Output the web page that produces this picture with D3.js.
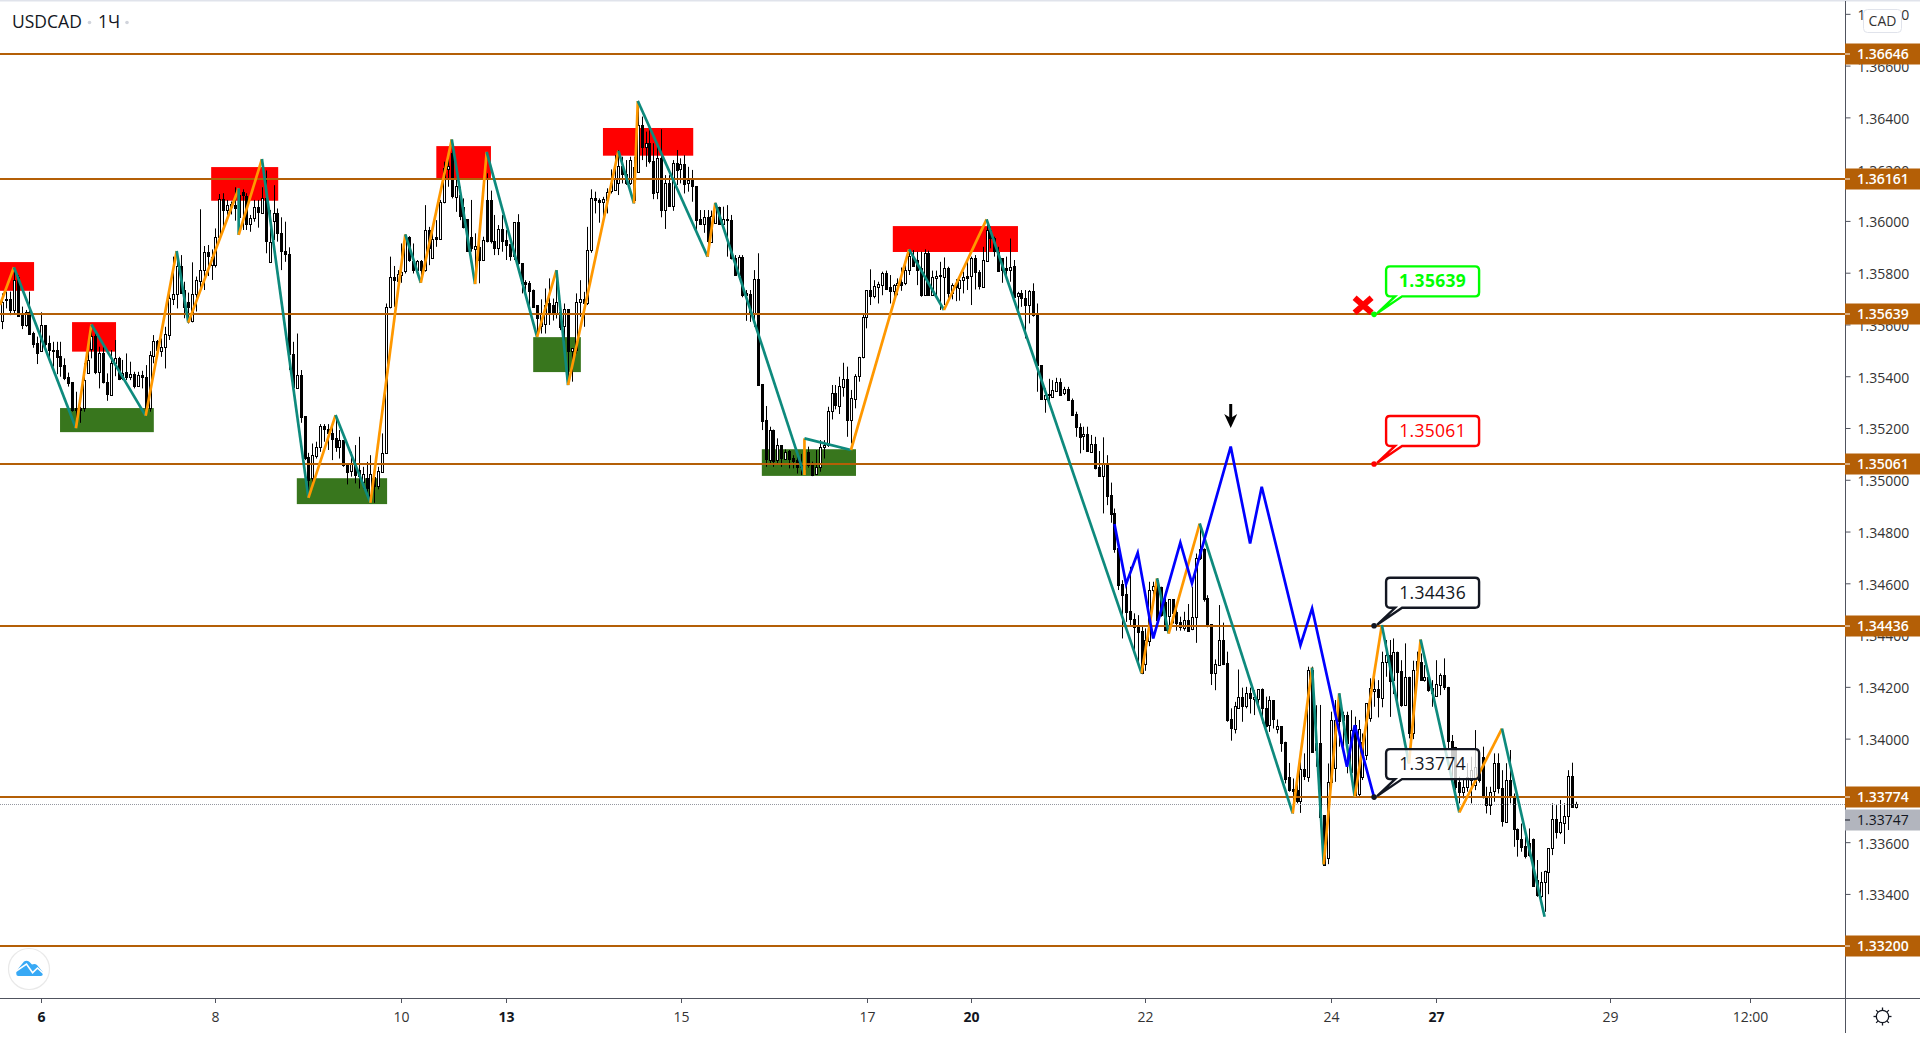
<!DOCTYPE html>
<html>
<head>
<meta charset="utf-8">
<title>USDCAD</title>
<script src="https://cdn.jsdelivr.net/npm/d3@7"></script>
<style>
  html, body { margin: 0; background: #fff; overflow: hidden; }
  svg { display: block; }
  text { font-family: "Open Sans", sans-serif; }
</style>
</head>
<body>
<div class="chart"></div>
<script>
/* candles as [open, high, low, close], in points above basePrice */
const basePrice = 1.33;

const candlesDay6 = [
[2615,2720,2582,2688],[2697,2727,2662,2692],[2698,2727,2636,2656],[2656,2817,2643,2772],[2785,2791,2630,2636],[2643,2669,2582,2598],[2598,2656,2591,2647],[2647,2727,2563,2563],
[2568,2572,2510,2524],[2530,2553,2447,2493],[2495,2647,2495,2596],[2596,2596,2501,2524],[2527,2557,2469,2499],[2500,2533,2437,2497],[2501,2533,2408,2475],[2478,2533,2398,2439],
[2443,2469,2385,2392],[2397,2414,2360,2375],[2376,2376,2263,2269],[2276,2340,2220,2269],[2278,2282,2220,2272],[2278,2450,2263,2385],[2414,2540,2411,2463],[2504,2591,2469,2555],
[2555,2579,2408,2414],[2414,2514,2353,2488],[2488,2514,2372,2375],[2376,2411,2305,2331],[2331,2501,2327,2453],[2450,2540,2400,2469],[2469,2475,2385,2388],[2396,2463,2385,2414],
[2415,2488,2385,2396],[2396,2456,2385,2408],[2408,2417,2353,2362],[2362,2417,2360,2403],[2403,2421,2353,2396],[2396,2443,2250,2276],[2278,2497,2263,2481],[2479,2559,2450,2536],
[2536,2540,2475,2501],[2499,2546,2475,2514],[2510,2591,2430,2562],[2559,2720,2540,2701],[2698,2862,2675,2716],[2716,2881,2662,2826],[2826,2868,2718,2720],[2733,2765,2624,2669],
[2685,2723,2604,2665],[2611,2840,2608,2716],[2716,2785,2650,2772],[2769,3045,2733,2810],[2808,2903,2733,2879],[2880,2907,2787,2864],[2830,2890,2772,2862],[2830,2971,2820,2937],
[2937,3104,2933,3083],[3083,3107,2978,3040],[3040,3081,3023,3060],[3065,3075,3025,3055],[3061,3130,3001,3051],[3016,3122,2946,3100],[3110,3122,2965,3098],[3098,3107,2965,2988],
[2988,3023,2958,3010],[3009,3081,2997,3052],[3052,3081,2974,3032],[3032,3130,3029,3090],[3087,3195,2875,2920]
];

const candlesDay8 = [
[2842,3042,2842,2920],[2997,3138,2926,3029],[3029,3048,2920,2952],[2952,3014,2810,2881],[2883,2997,2842,2871],[2872,2898,2424,2485],[2485,2533,2353,2359],[2353,2565,2353,2404],
[2404,2424,2220,2243],[2246,2246,2076,2082],[2089,2104,1947,1999],[2005,2140,1966,2095],[2091,2147,2082,2127],[2125,2215,2108,2207],[2207,2215,2147,2194],[2196,2215,2115,2179],
[2182,2218,2076,2160],[2160,2250,2108,2127],[2127,2192,2082,2153],[2153,2153,2050,2057],[2057,2063,1982,2031],[2031,2108,2012,2063],[2063,2134,1986,2018],[2037,2166,1966,2012],
[1995,2050,1966,2024],[2005,2069,1934,1966],[1915,2095,1915,2024],[2012,2063,1911,1979],[1975,2050,1963,2033],[2031,2179,2031,2105],[2104,2681,2102,2668],[2668,2862,2662,2782],
[2782,2826,2668,2769],[2769,2810,2761,2795],[2793,2913,2761,2804],[2804,2948,2797,2945],[2936,2941,2842,2846],[2846,2913,2797,2810],[2810,2849,2804,2845],[2845,2849,2765,2810],
[2810,3061,2804,2965],[2965,2977,2829,2894],[2858,2965,2855,2932],[2938,3003,2900,2932],[2932,3081,2929,3074],[3070,3229,3068,3203],[3203,3260,3132,3213],[3261,3287,3087,3096],
[3093,3164,3035,3135],[3100,3132,3003,3019],[3055,3087,2971,2977],[3006,3006,2881,2881],[2936,3081,2881,2894],[2892,2952,2759,2903],[2900,2926,2759,2849],[2849,2939,2845,2926],
[3081,3184,2917,2922],[3081,3117,2913,2923],[2922,3023,2868,2896],[2896,2984,2868,2968],[2968,3023,2881,2923],[2926,2965,2849,2907],[2910,2910,2846,2864],[2864,2994,2849,2994],
[2994,3026,2829,2836],[2836,2836,2720,2759],[2765,2771,2720,2759],[2762,2768,2655,2733],[2735,2735,2668,2671],[2675,2675,2552,2623]
];

const candlesDay14 = [
[2591,2697,2565,2643],[2601,2739,2565,2675],[2681,2778,2598,2643],[2675,2700,2615,2643],[2643,2810,2623,2685],[2650,2690,2578,2591],[2591,2681,2488,2658],[2658,2658,2372,2495],
[2495,2508,2379,2508],[2501,2720,2488,2688],[2687,2771,2630,2697],[2697,2726,2591,2681],[2681,2977,2675,2887],[2885,3122,2877,3087],[3087,3113,3029,3078],[3081,3087,2993,3072],
[3072,3093,2988,3084],[3081,3126,3029,3113],[3113,3199,3106,3145],[3119,3254,3117,3164],[3145,3274,3100,3212],[3212,3248,3145,3181],[3181,3235,3139,3145],[3145,3248,3139,3235],
[3209,3248,3068,3081],[3190,3464,3186,3370],[3370,3403,3235,3284],[3284,3345,3209,3300],[3300,3357,3222,3229],[3231,3300,3084,3109],[3109,3287,3084,3242],[3242,3354,3014,3042],
[3042,3177,2969,3145],[3145,3177,3057,3057],[3059,3235,3039,3225],[3225,3274,3139,3197],[3197,3242,3145,3218],[3218,3254,3106,3142],[3145,3209,3113,3158],[3164,3197,3074,3132],
[3135,3135,2965,3003],[3006,3042,2988,2988],[2988,3042,2954,3014],[3014,3042,2862,2920],[2920,3040,2920,3020],[2993,3070,2990,3055],[3052,3055,2988,2988],[2988,3055,2988,3006],
[3008,3061,2862,3003],[3003,3023,2851,2855],[2858,2868,2791,2791],[2791,2868,2772,2859],[2862,2868,2705,2717],[2720,2733,2614,2714],[2717,2733,2610,2643],[2643,2810,2591,2774],
[2774,2875,2366,2366],[2370,2370,2192,2228],[2230,2285,2050,2079],[2079,2205,2057,2194],[2194,2194,2050,2076],[2076,2160,2057,2134],[2134,2134,2050,2082],[2082,2117,2079,2108],
[2111,2115,2044,2082],[2085,2095,2044,2073],[2076,2102,2024,2050],[2050,2100,2018,2060],[2060,2110,2020,2040],[2108,2128,2047,2057]
];

const candlesDay17 = [
[2057,2070,2014,2018],[2022,2115,2018,2048],[2048,2153,2031,2125],[2125,2153,2082,2134],[2134,2282,2127,2265],[2263,2366,2233,2334],[2334,2366,2272,2286],[2286,2398,2254,2362],
[2359,2452,2321,2388],[2388,2437,2166,2228],[2228,2347,2140,2314],[2314,2408,2276,2401],[2398,2475,2379,2473],[2473,2643,2469,2627],[2627,2733,2585,2733],[2733,2813,2675,2710],
[2710,2771,2701,2748],[2746,2765,2681,2756],[2753,2804,2713,2800],[2800,2808,2733,2739],[2743,2791,2681,2729],[2729,2756,2701,2753],[2753,2778,2713,2762],[2765,2820,2730,2755],
[2761,2829,2752,2810],[2808,2890,2791,2864],[2862,2887,2823,2829],[2849,2881,2752,2810],[2817,2881,2707,2713],[2713,2890,2713,2875],[2875,2885,2710,2711],[2711,2808,2710,2782],
[2779,2808,2710,2788],[2791,2842,2656,2786],[2784,2859,2675,2817],[2817,2823,2701,2720],[2720,2759,2697,2752],[2760,2775,2690,2745],[2739,2791,2692,2771],[2769,2804,2720,2782],
[2787,2855,2733,2779],[2784,2862,2675,2855],[2855,2868,2735,2800],[2802,2810,2735,2746],[2746,2900,2743,2849],[2846,3006,2842,2965],[2965,2978,2894,2933],[2933,2939,2862,2881],
[2881,2900,2804,2808],[2855,2855,2761,2810],[2817,2862,2772,2810],[2810,2932,2765,2823],[2826,2849,2704,2705],[2707,2726,2643,2720],[2720,2733,2668,2701],[2701,2733,2546,2675],
[2675,2733,2604,2729],[2729,2759,2630,2636],[2640,2681,2340,2443],[2443,2443,2310,2310],[2310,2353,2259,2327],[2325,2390,2283,2330],[2318,2385,2318,2346],[2346,2394,2340,2379],
[2379,2392,2327,2330],[2334,2359,2327,2349],[2349,2359,2305,2308],[2308,2314,2250,2251],[2254,2263,2166,2205],[2205,2218,2102,2166]
];

const candlesDay21 = [
[2166,2205,2115,2175],[2175,2205,2108,2108],[2108,2173,2108,2138],[2138,2166,2040,2044],[2050,2111,2014,2014],[2014,2164,1870,2061],[2061,2095,1902,1937],[1941,1989,1834,1867],
[1870,1889,1718,1732],[1735,1735,1574,1593],[1597,1612,1387,1555],[1558,1600,1451,1489],[1493,1664,1432,1462],[1464,1484,1329,1432],[1439,1477,1290,1413],[1415,1432,1249,1252],
[1288,1426,1262,1381],[1378,1606,1357,1576],[1574,1606,1535,1591],[1612,1620,1450,1458],[1584,1587,1471,1477],[1529,1548,1416,1420],[1471,1538,1413,1538],[1538,1538,1445,1484],
[1490,1516,1417,1448],[1449,1471,1417,1430],[1430,1490,1417,1460],[1460,1520,1417,1419],[1422,1587,1419,1468],[1468,1715,1370,1696],[1731,1830,1690,1696],[1731,1735,1529,1539],
[1542,1554,1430,1436],[1442,1442,1207,1254],[1254,1306,1187,1287],[1284,1516,1284,1381],[1381,1448,1284,1290],[1294,1336,1065,1072],[1074,1117,992,1039],[1039,1142,1020,1126],
[1117,1267,1117,1159],[1159,1197,1065,1126],[1126,1200,1117,1175],[1175,1197,1097,1154],[1154,1187,1091,1160],[1151,1190,1117,1190],[1190,1194,1059,1117],[1120,1162,1043,1052],
[1052,1164,1026,1149],[1149,1149,1039,1074],[1038,1074,1020,1048],[1048,1048,949,984],[988,988,827,846],[853,906,795,804],[807,846,711,798],[800,860,750,756],
[756,943,713,881],[881,943,840,853],[853,1278,833,1265],[1265,1278,950,949],[982,1129,891,956],[985,1130,698,701],[704,704,509,511],[541,904,515,833],
[833,1104,833,1072],[885,1149,833,1072]
];

const candlesDay27 = [
[1149,1175,969,1069],[1091,1104,969,1072],[1091,1104,866,982],[872,1110,859,1033],[1052,1085,773,773],[786,1072,773,1039],[853,1020,840,988],[934,1136,917,1136],
[1078,1233,1065,1194],[1184,1233,1123,1191],[1190,1226,1082,1159],[1159,1336,1121,1297],[1297,1381,1239,1323],[1323,1381,1084,1224],[1226,1387,1172,1336],[1336,1336,1136,1258],
[1262,1303,1123,1130],[1130,1368,1126,1237],[1237,1239,1001,1020],[1023,1301,998,1267],[1265,1336,1258,1301],[1297,1329,1224,1226],[1226,1284,1220,1239],[1239,1246,1181,1188],
[1194,1226,1123,1175],[1164,1303,1162,1211],[1207,1252,1168,1246],[1246,1310,1188,1198],[1198,1200,956,988],[992,1014,853,930],[968,968,801,814],[833,853,750,795],
[795,840,769,814],[814,905,795,853],[840,930,750,878],[821,1033,801,891],[872,930,830,840],[930,969,769,775],[778,814,711,743],[743,814,705,795],
[795,943,756,904],[904,943,788,808],[808,878,660,679],[679,905,676,842],[842,956,750,775],[778,788,582,649],[652,653,544,614],[614,672,563,582],
[585,621,537,546],[595,653,544,550],[611,614,428,430],[453,531,389,395],[392,485,383,447],[447,490,331,489],[485,576,399,576],[576,750,550,688],
[688,743,614,636],[636,763,631,676],[676,750,593,702],[702,878,647,855],[855,907,734,737],[737,756,730,747]
];

const candles = [...candlesDay6, ...candlesDay8, ...candlesDay14, ...candlesDay17, ...candlesDay21, ...candlesDay27];

/* zigzag pivots as [bar index, points above basePrice] */
const zigzagPivots = [
[-0.6,2675],[3,2821],[19,2199],[23,2600],[37,2247],[45,2884],[48,2607],[61,3126],[61,2946],[67,3239],[79,1930],[86,2250],
[95,1911],[104,2948],[108,2761],[116,3315],[122,2756],[125,3267],[138,2552],[143,2810],[146,2366],[159,3271],[163,3068],[164,3463],
[182,2862],[184,3070],[207,2018],[207,2160],[219,2115],[234,2890],[243,2656],[254,3006],[294,1252],[298,1619],[301,1406],[309,1831],
[333,711],[338,1274],[341,514],[345,1175],[349,775],[356,1439],[363,904],[366,1383],[376,715],[387,1039],[398,312]
];

const forecastPivots = [
[287,1829],[290,1597],[293,1718],[297,1387],[304,1757],[307,1600],[317,2128],[322,1754],[325,1973],[335,1361],[338,1503],[347,891],[349,1052],[354,773]
];

/* supply and demand zones: [first bar, last bar, top, bottom] */
const supplyZones = [
[-2,8.2,2841,2730],[18,29.35,2609,2495],[53.9,71.2,3208,3078],[112,126.1,3289,3163],[155,178.3,3359,3252],[229.8,262.1,2980,2880]
];
const demandZones = [
[14.9,39.1,2277,2184],[76,99.3,2006,1906],[137,149.3,2551,2416],[196,220.3,2118,2015]
];

/* horizontal levels, price ticks, time ticks */
const levels = [1.36646, 1.36161, 1.35639, 1.35061, 1.34436, 1.33774, 1.332];
const lastPrice = 1.33747;
const priceTicks = [1.368, 1.366, 1.364, 1.362, 1.36, 1.358, 1.356, 1.354, 1.352, 1.35, 1.348, 1.346, 1.344, 1.342, 1.34, 1.336, 1.334];
const timeLabels = ["6", "8", "10", "13", "15", "17", "20", "22", "24", "27", "29", "12:00"];
const timeBars = [10, 54.9, 102.9, 130, 175.1, 223.1, 250, 295, 343, 370, 415, 451];
const boldTimes = ["6", "13", "20", "27"];

/* price callouts placed at one bar */
const calloutBar = 354;
const callouts = [
  { price: 1.35639, color: "#00ff00", weight: 700 },
  { price: 1.35061, color: "#ff0000", weight: 500 },
  { price: 1.34436, color: "#131722", weight: 500 },
  { price: 1.33774, color: "#131722", weight: 500 }
];

/* initialize SVG */
const width = 1920;
const height = 1040;
const axisX = 1845;
const axisY = 998.5;
const levelColor = "#b45f06";

const svg = d3.select(".chart").append("svg")
  .attr("width", width)
  .attr("height", height)
  .attr("viewBox", [0, 0, width, height]);

svg.append("defs").append("clipPath").attr("id", "plot")
  .append("rect").attr("width", axisX).attr("height", axisY);

/* scales */
const x = d3.scaleLinear().domain([0, 406]).range([2.3, 1575.6]);
const y = d3.scaleLinear().domain([1.36646, 1.332]).range([53.7, 945.7]);
const pts = v => basePrice + v / 1e5;
const crisp = v => Math.round(v) + 0.5;

svg.append("rect").attr("width", width).attr("height", 1.5).attr("fill", "#e0e3eb");

const plot = svg.append("g").attr("clip-path", "url(#plot)");

/* zones sit under the candles */
plot.append("g").selectAll("rect")
  .data(supplyZones.map(d => [...d, "#ff0000"]).concat(demandZones.map(d => [...d, "#38761d"])))
  .join("rect")
  .attr("x", d => x(d[0]))
  .attr("width", d => x(d[1]) - x(d[0]))
  .attr("y", d => y(pts(d[2])))
  .attr("height", d => y(pts(d[3])) - y(pts(d[2])))
  .attr("fill", d => d[4]);

/* candles */
const bars = plot.append("g").selectAll("g")
  .data(candles)
  .join("g");

bars.append("line")
  .attr("x1", (d, i) => crisp(x(i)))
  .attr("x2", (d, i) => crisp(x(i)))
  .attr("y1", d => y(pts(d[1])))
  .attr("y2", d => y(pts(d[2])))
  .attr("stroke", "#000")
  .attr("stroke-width", 1);

bars.append("rect")
  .attr("x", (d, i) => crisp(x(i)) - 1)
  .attr("width", 2)
  .attr("y", d => crisp(y(pts(Math.max(d[0], d[3])))))
  .attr("height", d => Math.max(1, Math.round(Math.abs(y(pts(d[0])) - y(pts(d[3]))))))
  .attr("fill", d => d[3] >= d[0] ? "#fff" : "#000")
  .attr("stroke", "#000")
  .attr("stroke-width", 1);

/* levels and last price line */
plot.append("g").selectAll("line")
  .data(levels)
  .join("line")
  .attr("x1", 0)
  .attr("x2", axisX)
  .attr("y1", d => Math.round(y(d)))
  .attr("y2", d => Math.round(y(d)))
  .attr("stroke", levelColor)
  .attr("stroke-width", 2);

plot.append("line")
  .attr("x1", 0)
  .attr("x2", axisX)
  .attr("y1", crisp(y(lastPrice)))
  .attr("y2", crisp(y(lastPrice)))
  .attr("stroke", "#9598a1")
  .attr("stroke-dasharray", "1 1");

/* zigzag legs, up legs orange and down legs teal */
plot.append("g").selectAll("line")
  .data(d3.pairs(zigzagPivots))
  .join("line")
  .attr("x1", d => x(d[0][0]))
  .attr("y1", d => y(pts(d[0][1])))
  .attr("x2", d => x(d[1][0]))
  .attr("y2", d => y(pts(d[1][1])))
  .attr("stroke", d => d[1][1] > d[0][1] ? "#ff9800" : "#0e8a7d")
  .attr("stroke-width", 2.7);

/* forecast line */
const forecastLine = d3.line().x(d => x(d[0])).y(d => y(pts(d[1])));
plot.append("path")
  .attr("d", forecastLine(forecastPivots))
  .attr("fill", "none")
  .attr("stroke", "#0000ff")
  .attr("stroke-width", 2.7)
  .attr("stroke-linejoin", "miter");

/* arrow above the forecast peak */
const arrowX = x(317);
plot.append("path")
  .attr("d", `M${arrowX},404V420`)
  .attr("stroke", "#000")
  .attr("stroke-width", 3);
plot.append("path")
  .attr("d", `M${arrowX - 6.5},414L${arrowX},418L${arrowX + 6.5},414L${arrowX},428Z`)
  .attr("fill", "#000");

/* cross next to the invalidated level */
const crossX = x(calloutBar) - 11;
const crossY = y(1.35639) - 9;
plot.append("path")
  .attr("d", `M${crossX - 8.5},${crossY - 7.5}L${crossX + 8.5},${crossY + 7.5}M${crossX + 8.5},${crossY - 7.5}L${crossX - 8.5},${crossY + 7.5}`)
  .attr("stroke", "#ff0000")
  .attr("stroke-width", 6);

/* callouts */
const boxW = 93;
const boxH = 30;
const calloutG = plot.append("g").selectAll("g")
  .data(callouts)
  .join("g")
  .attr("transform", d => `translate(${x(calloutBar)},${y(d.price)})`);

calloutG.append("path")
  .attr("d", () => {
    const l = 12, r = l + boxW, b = -18, t = b - boxH, c = 4;
    return `M${l + c},${t}H${r - c}Q${r},${t} ${r},${t + c}V${b - c}Q${r},${b} ${r - c},${b}` +
      `H${l + 16}L3,-1L${l + 9},${b}H${l + c}Q${l},${b} ${l},${b - c}V${t + c}Q${l},${t} ${l + c},${t}Z`;
  })
  .attr("fill", "rgba(255,255,255,0.78)")
  .attr("stroke", d => d.color)
  .attr("stroke-width", 2.4);

calloutG.append("circle")
  .attr("r", 2.8)
  .attr("fill", d => d.color);

calloutG.append("text")
  .attr("x", 12 + boxW / 2)
  .attr("y", -33)
  .attr("dy", "0.35em")
  .attr("text-anchor", "middle")
  .attr("font-size", 17.5)
  .attr("letter-spacing", 0.3)
  .attr("font-weight", d => d.weight)
  .attr("fill", d => d.color)
  .text(d => d.price.toFixed(5));

/* price axis */
const priceAxis = d3.axisRight(y)
  .tickValues(priceTicks)
  .tickFormat(d3.format(".5f"))
  .tickSize(5)
  .tickPadding(7);

const priceG = svg.append("g")
  .attr("transform", `translate(${axisX + 0.5},0)`)
  .call(priceAxis);
priceG.select(".domain").remove();
priceG.selectAll("line").attr("stroke", "#50535e");
priceG.selectAll("text")
  .attr("dy", "0.42em")
  .attr("font-size", 14)
  .attr("font-family", '"Open Sans", sans-serif')
  .attr("fill", "#333");

svg.append("line")
  .attr("x1", axisX + 0.5).attr("x2", axisX + 0.5)
  .attr("y1", 1).attr("y2", 1033)
  .attr("stroke", "#50535e");

/* level labels on the axis */
const levelTags = svg.append("g").selectAll("g")
  .data(levels)
  .join("g")
  .attr("transform", d => `translate(${axisX},${Math.round(y(d))})`);

levelTags.append("rect")
  .attr("y", -10.5).attr("width", width - axisX).attr("height", 21)
  .attr("fill", levelColor);
levelTags.append("line")
  .attr("x1", 0).attr("x2", 5)
  .attr("stroke", "#fff");
levelTags.append("text")
  .attr("x", 12)
  .attr("dy", "0.36em")
  .attr("font-size", 14)
  .attr("font-weight", 600)
  .attr("fill", "#fff")
  .text(d => d.toFixed(5));

/* last price label, pushed down off the level label above it */
const lastTag = svg.append("g").attr("transform", `translate(${axisX},820)`);
lastTag.append("rect")
  .attr("y", -10.5).attr("width", width - axisX).attr("height", 21)
  .attr("fill", "#b2b5be");
lastTag.append("line").attr("x1", 0).attr("x2", 5).attr("stroke", "#131722");
lastTag.append("text")
  .attr("x", 12)
  .attr("dy", "0.36em")
  .attr("font-size", 14)
  .attr("fill", "#131722")
  .text(lastPrice.toFixed(5));

/* currency button */
svg.append("rect")
  .attr("x", 1863.5).attr("y", 9.5).attr("width", 38).attr("height", 23).attr("rx", 4)
  .attr("fill", "#fff").attr("stroke", "#e0e3eb");
svg.append("text")
  .attr("x", 1882.5).attr("y", 21).attr("dy", "0.36em")
  .attr("text-anchor", "middle").attr("font-size", 14).attr("fill", "#333")
  .text("CAD");

/* time axis */
svg.append("line")
  .attr("x1", 0).attr("x2", width)
  .attr("y1", axisY).attr("y2", axisY)
  .attr("stroke", "#50535e");

const timeG = svg.append("g").selectAll("g")
  .data(timeLabels)
  .join("g")
  .attr("transform", (d, i) => `translate(${crisp(x(timeBars[i]))},${axisY})`);

timeG.append("line").attr("y2", 4.5).attr("stroke", "#50535e");
timeG.append("text")
  .attr("y", 18)
  .attr("dy", "0.36em")
  .attr("text-anchor", "middle")
  .attr("font-size", 14)
  .attr("font-weight", d => boldTimes.includes(d) ? 700 : 400)
  .attr("fill", d => boldTimes.includes(d) ? "#131722" : "#333")
  .text(d => d);

/* symbol title */
const title = svg.append("g").attr("fill", "#131722").attr("font-size", 17.5);
title.append("text").attr("x", 12).attr("y", 28).text("USDCAD");
title.append("text").attr("x", 98).attr("y", 28).text("1Ч");
svg.append("g").selectAll("circle")
  .data([89.5, 127])
  .join("circle")
  .attr("cx", d => d)
  .attr("cy", 22.5)
  .attr("r", 1.8)
  .attr("fill", "#d1d4dc");

/* logo button */
svg.append("circle")
  .attr("cx", 29).attr("cy", 969).attr("r", 20.5)
  .attr("fill", "#fff").attr("stroke", "#e9e9e9").attr("stroke-width", 1.2);
svg.append("path")
  .attr("d", "M16.3,971L24,961.5Q26.5,960 29,961.5L32,964.5Q35,963.5 37,965L42.8,972V974Q42.8,976 40.8,976H18.3Q16.3,976 16.3,974Z")
  .attr("fill", "#38a9f5");
svg.append("path")
  .attr("d", "M14,972.5L26.5,964L32.6,972.7L37.5,968L45,975")
  .attr("fill", "none")
  .attr("stroke", "#fff")
  .attr("stroke-width", 1.6);

/* settings gear */
const gear = svg.append("g")
  .attr("transform", "translate(1882.5,1016.5)")
  .attr("fill", "none")
  .attr("stroke", "#131722")
  .attr("stroke-width", 1.3);
gear.append("circle").attr("r", 6.2);
gear.selectAll("line")
  .data(d3.range(8))
  .join("line")
  .attr("y1", -6.2)
  .attr("y2", -9)
  .attr("transform", d => `rotate(${d * 45})`);
</script>
</body>
</html>
